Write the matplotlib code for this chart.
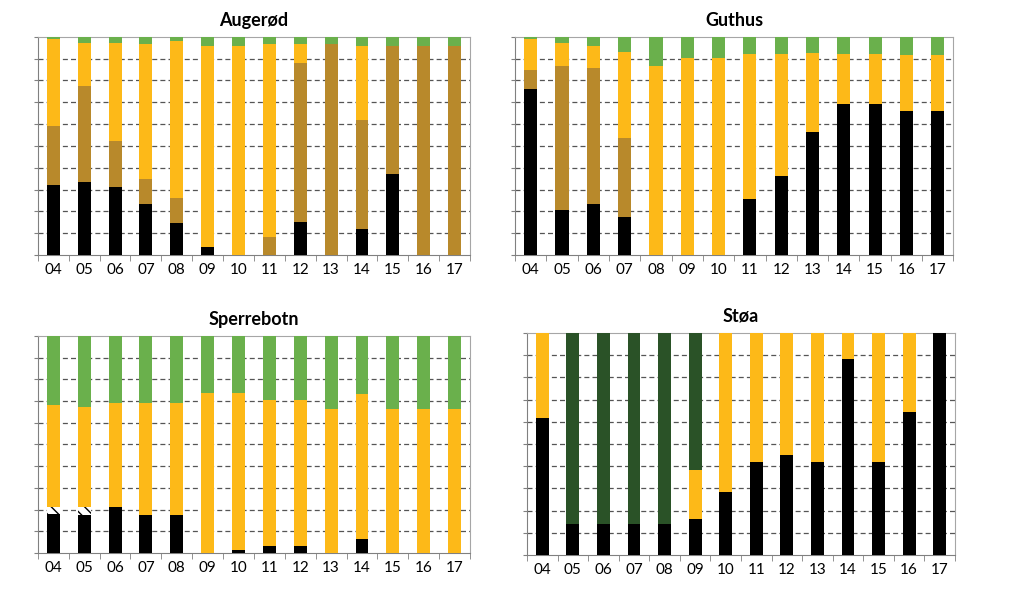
import numpy as np
import matplotlib.pyplot as plt

years = ['04', '05', '06', '07', '08', '09', '10', '11', '12', '13', '14', '15', '16', '17']

# Augerød (percent)
aug_black = [32, 33.7, 31, 23.6, 14.5, 3.5, 0, 0, 15.3, 0, 11.8, 37.1, 0, 0]
aug_brown = [27, 43.6, 21.4, 11.3, 11.8, 0, 0, 8.3, 72.9, 96.6, 49.9, 58.9, 96, 96]
aug_yellow = [40, 20, 44.8, 61.7, 71.6, 92.2, 95.7, 88.2, 8.4, 0, 34.2, 0, 0, 0]
aug_green = [1, 2.7, 2.8, 3.4, 2.1, 4.3, 4.3, 3.5, 3.4, 3.4, 4.1, 4, 4, 4]

# Guthus
gut_black = [76.1, 20.7, 23.6, 17.3, 0, 0, 0, 25.6, 36.4, 56.4, 69.2, 69.2, 65.8, 65.8]
gut_brown = [8.9, 66.1, 62.2, 36.3, 0, 0, 0, 0, 0, 0, 0, 0, 0, 0]
gut_yellow = [13.8, 10.4, 9.9, 39.4, 86.8, 90.2, 90.2, 66.7, 55.9, 36, 23.1, 23.1, 25.8, 25.8]
gut_green = [1.2, 2.8, 4.3, 7, 13.2, 9.8, 9.8, 7.7, 7.7, 7.6, 7.7, 7.7, 8.4, 8.4]

# Sperrebotn
spe_black = [18, 17.6, 21.1, 17.4, 17.4, 0, 1.4, 3.4, 3.4, 0, 6.2, 0, 0, 0]
spe_hatch = [3, 3.5, 0, 0, 0, 0, 0, 0, 0, 0, 0, 0, 0, 0]
spe_yellow = [47.1, 46.2, 47.8, 51.5, 51.5, 73.8, 72.4, 67, 67, 66.1, 67, 66.1, 66.1, 66.1]
spe_green = [31.9, 32.7, 31.1, 31.1, 31.1, 26.2, 26.2, 29.6, 29.6, 33.9, 26.8, 33.9, 33.9, 33.9]

# Støa
sto_black = [61.9, 14, 14, 14, 14, 16.3, 28.3, 41.9, 45.2, 41.9, 88.3, 41.9, 64.6, 100]
sto_yellow = [38.1, 0, 0, 0, 0, 21.8, 71.7, 58.1, 54.8, 58.1, 11.7, 58.1, 35.4, 0]
sto_dkgreen = [0, 86, 86, 86, 86, 61.9, 0, 0, 0, 0, 0, 0, 0, 0]

BLACK = '#000000'
BROWN = '#B8892B'
YELLOW = '#FDB918'
GREEN = '#6AB04C'
DKGREEN = '#2A5227'

plt.rcParams['font.family'] = ['Lato', 'DejaVu Sans']

fig = plt.figure(figsize=(10.24, 6.03), dpi=100)

panels = [
    ('Augerød', [0.037, 0.577, 0.422, 0.362],
     [(aug_black, BLACK, None), (aug_brown, BROWN, None), (aug_yellow, YELLOW, None), (aug_green, GREEN, None)]),
    ('Guthus', [0.503, 0.577, 0.428, 0.362],
     [(gut_black, BLACK, None), (gut_brown, BROWN, None), (gut_yellow, YELLOW, None), (gut_green, GREEN, None)]),
    ('Sperrebotn', [0.037, 0.083, 0.422, 0.36],
     [(spe_black, BLACK, None), (spe_hatch, 'white', '\\\\\\'), (spe_yellow, YELLOW, None), (spe_green, GREEN, None)]),
    ('Støa', [0.5146, 0.0796, 0.418, 0.368],
     [(sto_black, BLACK, None), (sto_yellow, YELLOW, None), (sto_dkgreen, DKGREEN, None)]),
]

x = np.arange(len(years))
for title, rect, series in panels:
    ax = fig.add_axes(rect)
    bottom = np.zeros(len(years))
    for vals, col, hatch in series:
        vals = np.array(vals, dtype=float)
        ax.bar(x, vals, 0.42, bottom=bottom, color=col, hatch=hatch,
               edgecolor='black' if hatch else col, linewidth=0, zorder=3)
        bottom += vals
    ax.set_xlim(-0.5, len(years) - 0.5)
    ax.set_ylim(0, 100)
    ax.set_yticks(np.arange(0, 101, 10))
    ax.set_yticklabels([])
    ax.tick_params(axis='y', length=3, color='#808080')
    ax.set_xticks(x)
    ax.set_xticklabels(years, fontsize=11)
    ax.tick_params(axis='x', length=0, pad=6)
    ax.set_xticks(np.arange(-0.5, len(years), 1), minor=True)
    ax.tick_params(axis='x', which='minor', length=4, color='#808080')
    for y in range(10, 100, 10):
        ax.axhline(y, color='#555555', linestyle=(0, (4, 2.5)), linewidth=0.9, zorder=1)
    for side in ['top', 'right']:
        ax.spines[side].set_color('#A6A6A6')
    for side in ['left', 'bottom']:
        ax.spines[side].set_color('#808080')
    ax.set_title(title, fontsize=13, fontweight='bold', pad=8)

plt.savefig('out.png', dpi=100)
